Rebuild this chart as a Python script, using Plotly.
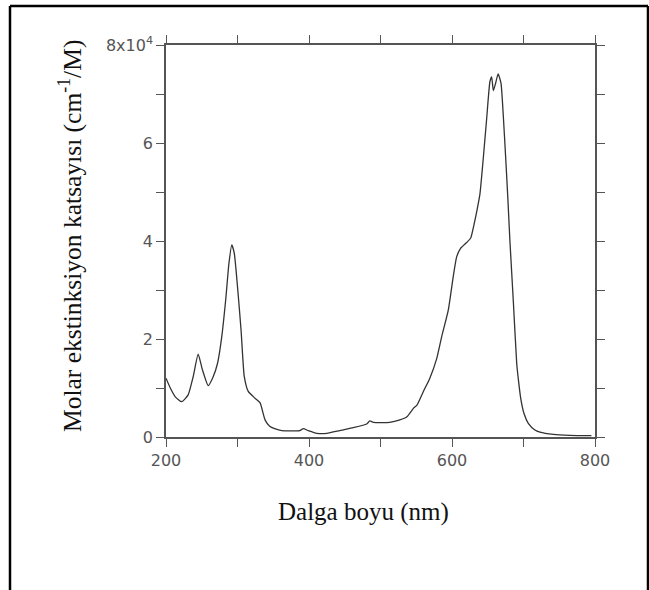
import plotly.graph_objects as go

# absorption spectrum
wavelength_nm = [200, 206, 213, 222, 231, 238, 245, 251, 259, 266, 272, 278,
                 283.5, 288, 292, 295.5, 300, 305, 309.5, 315, 324.5, 331.5,
                 338.5, 345, 352, 362, 387, 392, 399, 411, 425, 443, 462,
                 480.7, 485, 490, 513, 527, 537, 546, 551, 560, 569, 578.6,
                 585.6, 594.8, 602, 606.6, 612, 620.5, 626, 631, 635, 639,
                 643.8, 648.5, 653, 655.5, 657.8, 661, 664.5, 668.5, 671.8,
                 675, 678, 681, 685.8, 690.5, 693, 696, 700.7, 706.7, 716,
                 723, 741.7, 765, 795]
extinction = [12000, 10000, 8200, 7200, 8600, 12300, 16900, 13700, 10500,
              12300, 15000, 20500, 28000, 35400, 39200, 37500, 30700, 21800,
              12300, 9300, 7900, 7000, 3500, 2200, 1700, 1300, 1300, 1700,
              1300, 750, 750, 1300, 1900, 2650, 3270, 3000, 3000, 3500, 4150,
              5850, 6500, 9300, 12000, 16000, 20500, 25900, 33000, 36800,
              38500, 39700, 40550, 43500, 46300, 49500, 57000, 65000, 72500,
              73500, 70700, 72200, 74100, 72200, 65400, 57200, 49000, 40000,
              27600, 15000, 11500, 8000, 4800, 2800, 1430, 1000, 540, 340, 270]

y_tickvals = [0, 20000, 40000, 60000, 80000]
y_ticktext = ['0', '2', '4', '6', '8x10<sup>4</sup>']
y_minor = [10000, 30000, 50000, 70000]

W, H = 649, 590
L, R, T, B = 166, 595, 45, 437  # plot area in pixels


def px(x):
    return (x - L) / (R - L)


def py(y):
    return (B - y) / (B - T)


fig = go.Figure(go.Scatter(
    x=wavelength_nm,
    y=extinction,
    mode='lines',
    line=dict(color='#333333', width=1.3, shape='spline', smoothing=0.5),
    showlegend=False
))

axis_style = dict(
    showline=True, linecolor='#555555', linewidth=1.5, mirror='ticks',
    ticks='outside', ticklen=8, tickwidth=1.2, tickcolor='#555555',
    showgrid=False, zeroline=False,
    tickfont=dict(family='DejaVu Sans', size=16, color='#555555'),
)

fig.update_xaxes(range=[200, 800], tick0=200, dtick=200,
                 minor=dict(dtick=100, ticks='outside', ticklen=8,
                            tickcolor='#555555', tickwidth=1.2),
                 **axis_style)
fig.update_yaxes(range=[0, 80000], tickvals=y_tickvals, ticktext=y_ticktext,
                 minor=dict(tickvals=y_minor, ticks='outside', ticklen=8,
                            tickcolor='#555555', tickwidth=1.2),
                 **axis_style)

serif = dict(family='Liberation Serif', color='#111111')

fig.add_annotation(text='Dalga boyu (nm)', xref='paper', yref='paper',
                   x=px(363), y=py(512), showarrow=False,
                   xanchor='center', yanchor='middle',
                   font=dict(size=25, **serif))
fig.add_annotation(text='Molar ekstinksiyon katsayısı (cm<sup>-1</sup>/M)',
                   xref='paper', yref='paper', x=px(70), y=py(236),
                   showarrow=False, textangle=-90,
                   xanchor='center', yanchor='middle',
                   font=dict(size=25.5, **serif))

# frame around the figure (open at the bottom)
for x0, y0, x1, y1 in [(10, 6, 10, 600), (10, 6, 648, 6), (648, 6, 648, 600)]:
    fig.add_shape(type='line', xref='paper', yref='paper',
                  x0=px(x0), y0=py(y0), x1=px(x1), y1=py(y1),
                  line=dict(color='black', width=2.5))

fig.update_layout(
    width=W, height=H,
    margin=dict(l=L, r=W - R, t=T, b=H - B),
    paper_bgcolor='white',
    plot_bgcolor='white',
)

fig.write_html("out.html", config={'displayModeBar': False},
               post_script="document.body.style.margin='0';")
